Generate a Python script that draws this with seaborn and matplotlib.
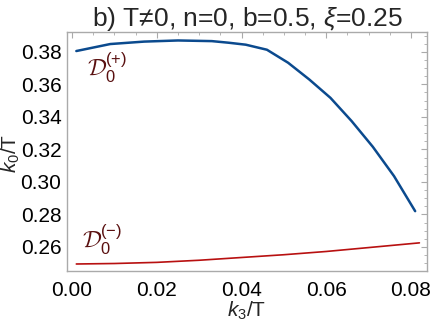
import matplotlib
matplotlib.use("Agg")
import matplotlib.pyplot as plt
import seaborn as sns
import pandas as pd
from matplotlib.ticker import MultipleLocator

# Data
k3_plus = [0.001, 0.009, 0.017, 0.025, 0.033, 0.037, 0.041, 0.046, 0.051,
           0.056, 0.061, 0.066, 0.071, 0.076, 0.081]
k0_plus = [0.3805, 0.3848, 0.3863, 0.3870, 0.3866, 0.3856, 0.3844, 0.3813,
           0.3733, 0.3630, 0.3517, 0.3374, 0.3216, 0.3036, 0.2820]
k3_minus = [0.001, 0.01, 0.02, 0.03, 0.04, 0.05, 0.06, 0.07, 0.082]
k0_minus = [0.2495, 0.2498, 0.2505, 0.2518, 0.2535, 0.2552, 0.2572, 0.2596, 0.2625]

sns.set_style("white")
plt.rcParams['font.family'] = ['Liberation Sans', 'DejaVu Sans']
plt.rcParams['mathtext.fontset'] = 'custom'
plt.rcParams['mathtext.rm'] = 'Liberation Sans'
plt.rcParams['mathtext.it'] = 'Liberation Sans:italic'
plt.rcParams['mathtext.cal'] = 'cmsy10'

fig = plt.figure(figsize=(4.36, 3.27), dpi=100)
ax = fig.add_axes([0.1537, 0.1713, 0.8257, 0.7308])

df_p = pd.DataFrame({"k3": k3_plus, "k0": k0_plus})
df_m = pd.DataFrame({"k3": k3_minus, "k0": k0_minus})
sns.lineplot(data=df_p, x="k3", y="k0", ax=ax, color="#0b4a8e", lw=1.8)
sns.lineplot(data=df_m, x="k3", y="k0", ax=ax, color="#b81010", lw=1.2)

ax.set_xlim(-0.0012, 0.0838)
ax.set_ylim(0.2452, 0.3922)
ax.xaxis.set_major_locator(MultipleLocator(0.02))
ax.xaxis.set_minor_locator(MultipleLocator(0.005))
ax.yaxis.set_major_locator(MultipleLocator(0.02))
ax.yaxis.set_minor_locator(MultipleLocator(0.005))
ax.xaxis.set_major_formatter(matplotlib.ticker.FormatStrFormatter('%.2f'))
ax.yaxis.set_major_formatter(matplotlib.ticker.FormatStrFormatter('%.2f'))
ax.tick_params(which='both', direction='in', top=True, right=True,
               color='#aaaaaa', labelsize=15, labelcolor='black')
ax.tick_params(which='major', length=4, width=0.8)
ax.tick_params(which='minor', length=2, width=0.6)
ax.tick_params(axis='x', pad=7)
ax.tick_params(axis='y', pad=4)
for s in ax.spines.values():
    s.set_color('#aaaaaa')
    s.set_linewidth(1.0)

ax.set_xlabel(r"$k_3$/T", fontsize=15, labelpad=0)
ax.set_ylabel(r"$k_0$/T", fontsize=15)
ax.yaxis.set_label_coords(-0.125, 0.49)
ax.set_title(r"b) T≠0, n=0, b=0.5, $\xi$=0.25", fontsize=19, pad=4)

ax.text(0.0035, 0.3650, r"$\mathcal{D}_0^{(+)}$", color="#5a1010", fontsize=17,
        va='baseline')
ax.text(0.0024, 0.2590, r"$\mathcal{D}_0^{(-)}$", color="#5a1010", fontsize=17,
        va='baseline')

fig.savefig("out.png", dpi=100)
